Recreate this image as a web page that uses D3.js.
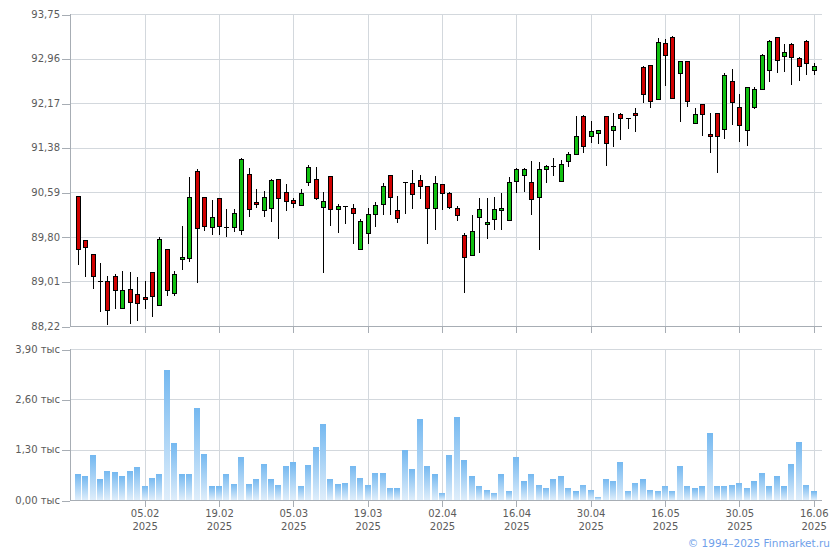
<!DOCTYPE html>
<html>
<head>
<meta charset="utf-8">
<script src="https://cdn.jsdelivr.net/npm/d3@7"></script>
<style>
  html, body { margin: 0; padding: 0; background: #fff; }
  svg { display: block; }
  text { font-family: "DejaVu Sans", Verdana, sans-serif; }
</style>
</head>
<body>
<div id="chart"></div>
<script>
// ---- data (trading-day index 0..99) ----
const opens  = [90.52,89.74,89.49,89.01,89.01,89.10,88.53,88.87,88.78,88.73,
                89.17,88.60,89.58,88.80,89.40,89.42,90.96,90.50,89.99,90.48,
                89.98,89.97,89.92,90.91,90.42,90.27,90.31,90.82,90.59,90.45,
                90.36,90.77,90.82,90.32,90.87,90.29,90.34,90.32,89.58,89.86,
                90.20,90.38,90.89,90.27,90.77,90.75,90.80,90.70,90.31,90.73,
                90.57,90.32,89.83,89.47,90.15,90.02,90.11,90.29,90.11,90.78,
                90.89,90.78,90.50,91.00,91.06,90.80,91.13,91.26,91.95,91.60,
                91.64,91.94,91.69,91.97,91.90,91.99,92.81,92.84,92.24,93.23,
                93.35,92.70,92.91,91.81,92.15,91.62,91.99,91.71,92.56,92.10,
                91.69,92.10,92.42,92.77,93.34,93.00,93.21,92.97,93.28,92.75];
const highs  = [90.53,89.75,89.50,89.33,89.11,89.15,89.19,89.17,89.08,89.01,
                89.18,89.79,89.59,89.19,89.99,90.86,91.00,90.51,90.45,90.49,
                90.29,90.29,91.20,91.02,90.64,90.61,90.82,90.83,90.73,90.48,
                90.64,91.07,91.03,90.59,90.88,90.39,90.35,90.39,90.11,90.32,
                90.41,90.75,90.90,90.52,90.77,90.98,90.89,90.71,90.87,90.74,
                90.59,90.34,89.86,90.18,90.48,90.48,90.50,90.57,90.86,91.02,
                91.02,91.14,91.12,91.07,91.19,91.16,91.31,91.95,91.96,91.85,
                91.70,91.95,91.99,91.99,91.91,92.08,92.82,92.85,93.32,93.30,
                93.36,92.92,92.92,92.08,92.16,91.99,92.00,92.70,92.77,92.33,
                92.46,92.45,93.04,93.29,93.35,93.21,93.23,92.98,93.29,92.89];
const lows   = [89.31,89.09,88.88,88.46,88.23,88.53,88.52,88.25,88.30,88.53,
                88.38,88.60,88.75,88.75,89.21,89.35,88.99,89.90,89.83,89.83,
                89.79,89.88,89.83,90.16,90.31,90.16,90.06,89.76,90.26,90.32,
                90.36,90.70,90.45,89.16,90.00,89.86,90.02,89.67,89.58,89.67,
                89.97,90.18,90.18,90.04,90.20,90.29,90.47,89.67,89.93,90.27,
                90.29,90.08,88.80,89.47,89.51,89.77,89.93,89.93,90.11,90.57,
                90.59,90.18,89.56,90.75,90.87,90.78,91.03,91.26,91.29,91.47,
                91.45,91.06,91.39,91.51,91.72,91.65,92.18,92.08,92.23,92.47,
                92.25,91.83,92.11,91.80,91.58,91.28,90.93,91.53,91.78,91.49,
                91.41,92.06,92.40,92.54,92.70,92.72,92.50,92.56,92.66,92.66];
const closes = [89.58,89.61,89.10,89.01,88.50,88.86,88.85,88.64,88.62,88.69,
                88.75,89.77,88.85,89.14,89.44,90.50,89.95,89.99,90.16,89.99,
                89.98,90.22,91.18,90.29,90.38,90.50,90.80,90.48,90.43,90.39,
                90.57,91.03,90.48,90.43,90.29,90.34,90.34,90.24,90.08,90.20,
                90.36,90.70,90.50,90.13,90.77,90.55,90.70,90.31,90.75,90.57,
                90.32,90.20,89.44,89.90,90.29,90.06,90.29,90.32,90.78,91.00,
                91.00,90.47,91.00,91.05,91.06,91.10,91.26,91.58,91.42,91.68,
                91.69,91.47,91.76,91.90,91.90,91.95,92.33,92.20,93.25,93.02,
                92.26,92.91,92.20,91.97,91.97,91.58,91.58,92.66,92.19,91.78,
                92.45,92.42,93.02,93.28,92.93,93.07,92.98,92.82,92.89,92.82];
const volumes = [0.66,0.61,1.15,0.53,0.76,0.73,0.61,0.76,0.86,0.37,
                 0.58,0.68,3.36,1.48,0.66,0.68,2.38,1.20,0.35,0.35,
                 0.68,0.42,1.12,0.42,0.55,0.94,0.53,0.40,0.89,0.97,
                 0.37,0.91,1.38,1.97,0.55,0.42,0.45,0.89,0.58,0.40,
                 0.71,0.71,0.32,0.30,1.28,0.81,2.10,0.89,0.66,0.19,
                 1.17,2.15,1.04,0.61,0.37,0.27,0.19,0.66,0.24,1.12,
                 0.48,0.68,0.40,0.32,0.55,0.61,0.32,0.22,0.40,0.27,
                 0.09,0.55,0.50,0.99,0.24,0.45,0.53,0.27,0.24,0.37,
                 0.24,0.89,0.37,0.30,0.35,1.74,0.37,0.37,0.40,0.45,
                 0.32,0.48,0.71,0.35,0.61,0.35,0.94,1.51,0.40,0.22];
const dateTickIndex = [9,19,29,39,49,59,69,79,89,99];
const dateTickLabels = ["05.02","19.02","05.03","19.03","02.04","16.04","30.04","16.05","30.05","16.06"];
const dateTickYear = "2025";
const priceTicks = [88.22,89.01,89.80,90.59,91.38,92.17,92.96,93.75];
const volumeTicks = [0,1.30,2.60,3.90];
const volumeSuffix = " тыс";
const copyright = "© 1994–2025 Finmarket.ru";

// ---- layout ----
const W = 840, H = 550;
const left = 70, right = 822;
const pTop = 14, pBot = 326, vTop = 349, vBot = 500;

const svg = d3.select("#chart").append("svg").attr("width", W).attr("height", H);

const x = d3.scaleLinear().domain([0, 99]).range([77.7, 813.7]);
const yP = d3.scaleLinear().domain([88.22, 93.75]).range([pBot, pTop]);
const yV = d3.scaleLinear().domain([0, 3.90]).range([vBot, vTop]);
const fmt = v => d3.format(".2f")(v).replace(".", ",");

const gridColor = "#d3d8dd", axisColor = "#a7adb4", textColor = "#5b5b5b";

const defs = svg.append("defs");
const grad = defs.append("linearGradient").attr("id", "vg").attr("x1", 0).attr("y1", 0).attr("x2", 0).attr("y2", 1);
grad.append("stop").attr("offset", "0%").attr("stop-color", "#74b8f0");
grad.append("stop").attr("offset", "100%").attr("stop-color", "#dfeefb");

// grids
const grid = svg.append("g").attr("shape-rendering", "crispEdges").attr("stroke", gridColor).attr("stroke-width", 1);
grid.selectAll(".hp").data(priceTicks).join("line")
  .attr("x1", left).attr("x2", right).attr("y1", d => Math.round(yP(d)) + 0.5).attr("y2", d => Math.round(yP(d)) + 0.5);
grid.selectAll(".hv").data(volumeTicks.slice(1)).join("line")
  .attr("x1", left).attr("x2", right).attr("y1", d => Math.round(yV(d)) + 0.5).attr("y2", d => Math.round(yV(d)) + 0.5);
grid.selectAll(".vp").data(dateTickIndex).join("line")
  .attr("x1", d => Math.round(x(d)) + 0.5).attr("x2", d => Math.round(x(d)) + 0.5).attr("y1", pTop).attr("y2", pBot);
grid.selectAll(".vv").data(dateTickIndex).join("line")
  .attr("x1", d => Math.round(x(d)) + 0.5).attr("x2", d => Math.round(x(d)) + 0.5).attr("y1", vTop).attr("y2", vBot);

// volume bars
const idx = d3.range(volumes.length);
svg.append("g").attr("shape-rendering", "crispEdges").selectAll("rect").data(idx).join("rect")
  .attr("x", i => Math.round(x(i)) - 3)
  .attr("width", 6)
  .attr("y", i => yV(volumes[i]))
  .attr("height", i => vBot - yV(volumes[i]))
  .attr("fill", "url(#vg)");

// candles
const cg = svg.append("g").attr("shape-rendering", "crispEdges");
cg.selectAll("line.wick").data(idx).join("line")
  .attr("class", "wick")
  .attr("x1", i => Math.round(x(i)) + 0.5).attr("x2", i => Math.round(x(i)) + 0.5)
  .attr("y1", i => yP(highs[i])).attr("y2", i => yP(lows[i]))
  .attr("stroke", "#000").attr("stroke-width", 1);
cg.selectAll("rect.body").data(idx.filter(i => opens[i] !== closes[i])).join("rect")
  .attr("class", "body")
  .attr("x", i => Math.round(x(i)) - 1.5)
  .attr("width", 4)
  .attr("y", i => Math.round(yP(Math.max(opens[i], closes[i]))) + 0.5)
  .attr("height", i => Math.max(1, Math.round(yP(Math.min(opens[i], closes[i])) - yP(Math.max(opens[i], closes[i])))))
  .attr("fill", i => closes[i] > opens[i] ? "#10c010" : "#d00000")
  .attr("stroke", "#000").attr("stroke-width", 1);
cg.selectAll("line.doji").data(idx.filter(i => opens[i] === closes[i])).join("line")
  .attr("class", "doji")
  .attr("x1", i => Math.round(x(i)) - 2).attr("x2", i => Math.round(x(i)) + 3)
  .attr("y1", i => Math.round(yP(opens[i])) + 0.5).attr("y2", i => Math.round(yP(opens[i])) + 0.5)
  .attr("stroke", "#000").attr("stroke-width", 1);

// axes
function styleAxis(g) {
  g.select(".domain").remove();
  g.selectAll(".tick line").attr("stroke", axisColor);
  g.selectAll(".tick text").attr("fill", textColor).attr("font-size", 10)
    .attr("font-family", "'DejaVu Sans', Verdana, sans-serif");
}
const axP = svg.append("g").attr("transform", `translate(${left},0)`).attr("shape-rendering", "crispEdges")
  .call(d3.axisLeft(yP).tickValues(priceTicks).tickSize(8).tickPadding(2).tickFormat(fmt));
styleAxis(axP);
const axV = svg.append("g").attr("transform", `translate(${left},0)`).attr("shape-rendering", "crispEdges")
  .call(d3.axisLeft(yV).tickValues(volumeTicks).tickSize(8).tickPadding(2).tickFormat(d => fmt(d) + volumeSuffix));
styleAxis(axV);
const axB1 = svg.append("g").attr("transform", `translate(0,${pBot})`).attr("shape-rendering", "crispEdges")
  .call(d3.axisBottom(x).tickValues(dateTickIndex).tickSize(7).tickFormat(""));
styleAxis(axB1);
const axB2 = svg.append("g").attr("transform", `translate(0,${vBot})`).attr("shape-rendering", "crispEdges")
  .call(d3.axisBottom(x).tickValues(dateTickIndex).tickSize(7).tickPadding(3).tickFormat((d, i) => dateTickLabels[i]));
styleAxis(axB2);
axB2.selectAll(".tick text").each(function() {
  const t = d3.select(this);
  const label = t.text();
  t.text(null);
  t.append("tspan").attr("x", 0).attr("dy", "0.71em").text(label);
  t.append("tspan").attr("x", 0).attr("dy", "1.25em").text(dateTickYear);
});
axP.selectAll(".tick line").attr("transform", "translate(0,0.5)");
axV.selectAll(".tick line").attr("transform", "translate(0,0.5)");

// axis lines
const al = svg.append("g").attr("shape-rendering", "crispEdges").attr("stroke", axisColor);
al.append("line").attr("x1", left + 0.5).attr("x2", left + 0.5).attr("y1", pTop).attr("y2", pBot + 1);
al.append("line").attr("x1", left + 0.5).attr("x2", left + 0.5).attr("y1", vTop).attr("y2", vBot + 1);
al.append("line").attr("x1", left).attr("x2", right).attr("y1", pBot + 0.5).attr("y2", pBot + 0.5);
al.append("line").attr("x1", left).attr("x2", right).attr("y1", vBot + 0.5).attr("y2", vBot + 0.5);

// copyright
svg.append("text").attr("x", 830).attr("y", 547).attr("text-anchor", "end")
  .attr("font-size", 10.5).attr("fill", "#6f9fea").text(copyright);
</script>
</body>
</html>
